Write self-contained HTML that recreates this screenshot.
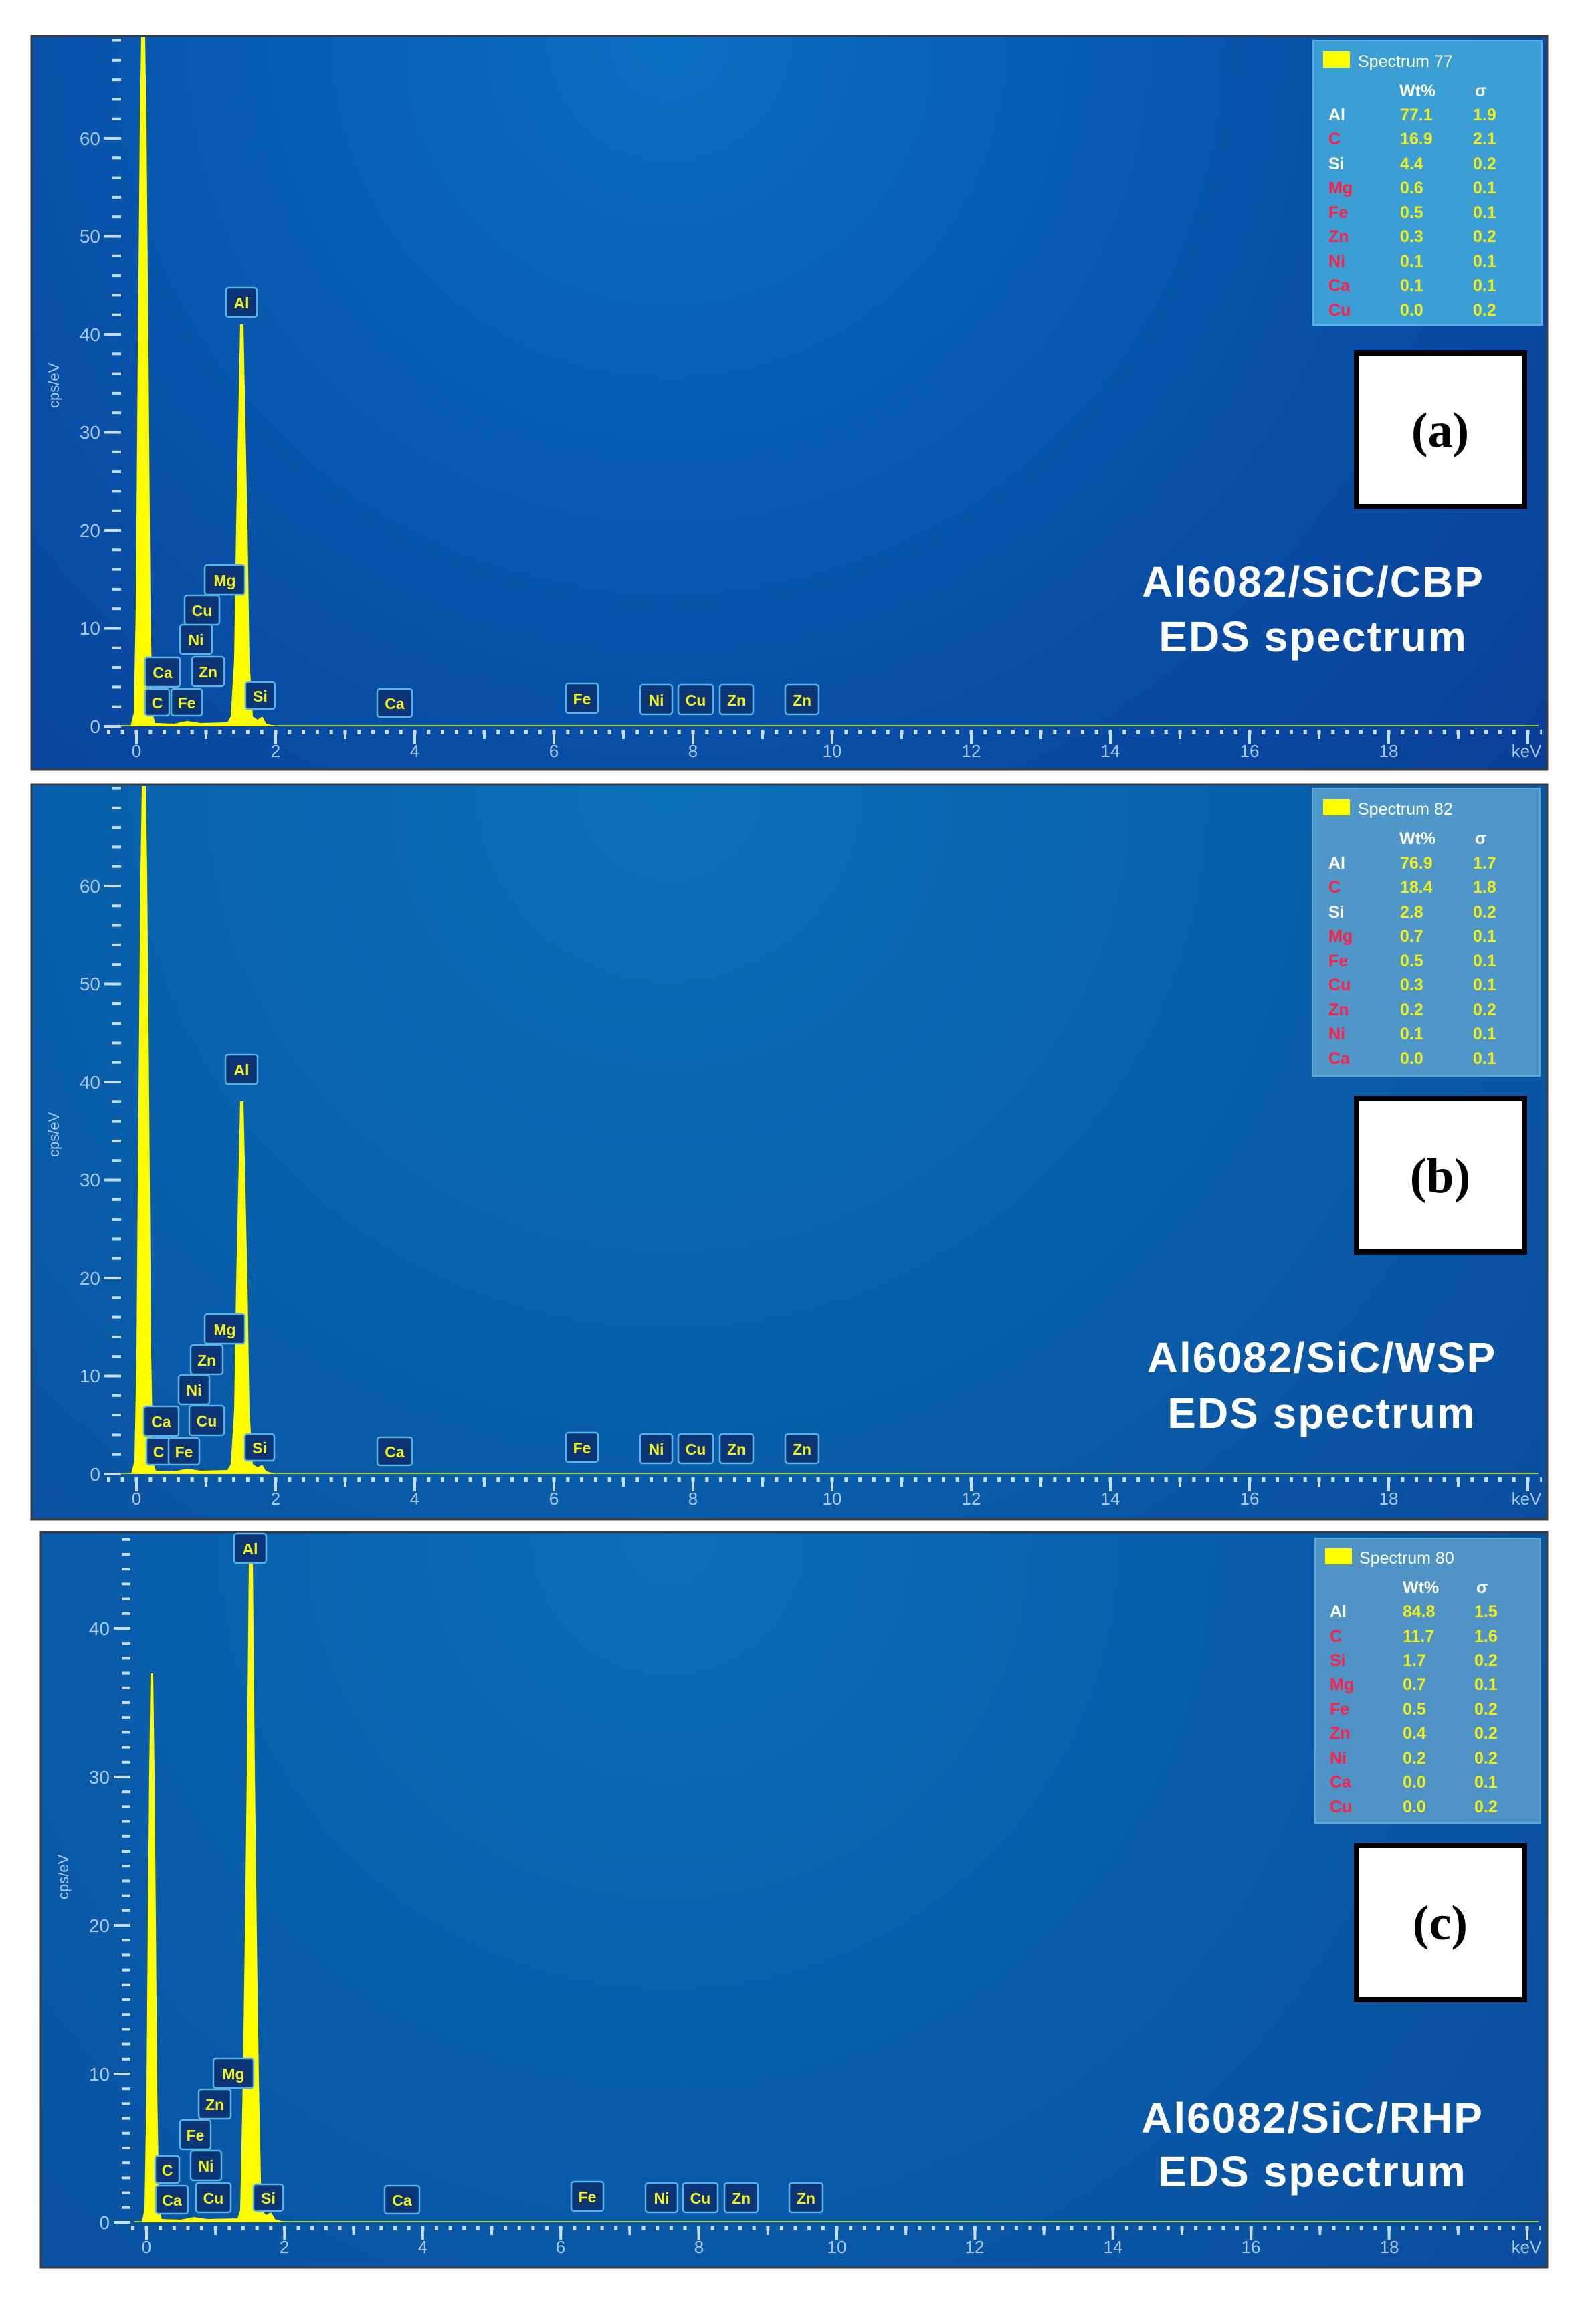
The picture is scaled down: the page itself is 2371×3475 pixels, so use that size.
<!DOCTYPE html>
<html><head><meta charset="utf-8"><style>
html,body{margin:0;padding:0;background:#fff;}
svg{display:block;}
.yl{font-family:"Liberation Sans",sans-serif;font-size:28px;fill:#a9c8ec;text-anchor:end;}
.xl{font-family:"Liberation Sans",sans-serif;font-size:26px;fill:#a9c8ec;text-anchor:middle;}
.cps{font-family:"Liberation Sans",sans-serif;font-size:22px;fill:#a9c8ec;}
.pk rect{fill:#0b3576;stroke:#56b4e6;stroke-width:2.5;}
.pk text{font-family:"Liberation Sans",sans-serif;font-weight:bold;font-size:23px;fill:#f4f21a;text-anchor:middle;}
.lg{font-family:"Liberation Sans",sans-serif;font-weight:bold;font-size:25px;}
.ttl{font-family:"Liberation Sans",sans-serif;font-weight:bold;font-size:64px;letter-spacing:2px;fill:#fff;text-anchor:middle;}
.lbl{font-family:"Liberation Serif",serif;font-weight:bold;font-size:74px;fill:#000;text-anchor:middle;}
.w{fill:#fff}.r{fill:#ff1f45}.yv{fill:#f0ef1c}
</style></head><body>
<svg width="2371" height="3475" viewBox="0 0 2371 3475" xmlns="http://www.w3.org/2000/svg">
<defs>
<radialGradient id="ga" gradientUnits="userSpaceOnUse" cx="1000" cy="60" r="1700">
<stop offset="0" stop-color="#0a6fc4"/><stop offset="0.55" stop-color="#0852aa"/><stop offset="1" stop-color="#0a3f98"/></radialGradient>
<radialGradient id="gb" gradientUnits="userSpaceOnUse" cx="1000" cy="1180" r="1700">
<stop offset="0" stop-color="#0b70ba"/><stop offset="0.55" stop-color="#095fab"/><stop offset="1" stop-color="#0a4d9e"/></radialGradient>
<radialGradient id="gc" gradientUnits="userSpaceOnUse" cx="1000" cy="2300" r="1700">
<stop offset="0" stop-color="#0b6fba"/><stop offset="0.55" stop-color="#095ba9"/><stop offset="1" stop-color="#0a4c9e"/></radialGradient>
<pattern id="xd1" patternUnits="userSpaceOnUse" x="201.5" y="0" width="20.8" height="4000"><rect x="0" y="0" width="5" height="4000" fill="#c9def5"/></pattern>
<pattern id="xm1" patternUnits="userSpaceOnUse" x="202" y="0" width="104" height="4000"><rect x="0" y="0" width="4" height="4000" fill="#c9def5"/></pattern>
<pattern id="xl1" patternUnits="userSpaceOnUse" x="202" y="0" width="208" height="4000"><rect x="0" y="0" width="4" height="4000" fill="#c9def5"/></pattern>
<pattern id="xd3" patternUnits="userSpaceOnUse" x="216.5" y="0" width="20.64" height="4000"><rect x="0" y="0" width="5" height="4000" fill="#c9def5"/></pattern>
<pattern id="xm3" patternUnits="userSpaceOnUse" x="217" y="0" width="103.2" height="4000"><rect x="0" y="0" width="4" height="4000" fill="#c9def5"/></pattern>
<pattern id="xl3" patternUnits="userSpaceOnUse" x="217" y="0" width="206.4" height="4000"><rect x="0" y="0" width="4" height="4000" fill="#c9def5"/></pattern>
<pattern id="ya" patternUnits="userSpaceOnUse" x="0" y="1084" width="4000" height="29.3"><rect x="0" y="0" width="4000" height="4" fill="#c9def5"/></pattern>
<pattern id="yb" patternUnits="userSpaceOnUse" x="0" y="2202" width="4000" height="29.3"><rect x="0" y="0" width="4000" height="4" fill="#c9def5"/></pattern>
<pattern id="yc" patternUnits="userSpaceOnUse" x="0" y="3321" width="4000" height="22.2"><rect x="0" y="0" width="4000" height="4" fill="#c9def5"/></pattern>
</defs>

<rect x="47" y="54" width="2266" height="1097" fill="url(#ga)" stroke="#3a3a3a" stroke-width="3"/>
<rect x="168" y="58" width="13" height="1032" fill="url(#ya)"/>
<g stroke="#c9def5" stroke-width="4">
<line x1="156" y1="1086" x2="181" y2="1086"/><line x1="156" y1="939.5" x2="181" y2="939.5"/><line x1="156" y1="793" x2="181" y2="793"/><line x1="156" y1="646.5" x2="181" y2="646.5"/><line x1="156" y1="500" x2="181" y2="500"/><line x1="156" y1="353.5" x2="181" y2="353.5"/><line x1="156" y1="207" x2="181" y2="207"/></g>
<g class="yl"><text x="150" y="1096">0</text><text x="150" y="949">10</text><text x="150" y="803">20</text><text x="150" y="656">30</text><text x="150" y="510">40</text><text x="150" y="363">50</text><text x="150" y="217">60</text></g>
<text class="cps" transform="translate(88,610) rotate(-90)">cps/eV</text>
<rect x="160" y="1091" width="2145" height="7" fill="url(#xd1)"/>
<rect x="160" y="1091" width="2145" height="14" fill="url(#xm1)"/>
<rect x="160" y="1091" width="2145" height="21" fill="url(#xl1)"/>
<g class="xl"><text x="204" y="1132">0</text><text x="412" y="1132">2</text><text x="620" y="1132">4</text><text x="828" y="1132">6</text><text x="1036" y="1132">8</text><text x="1244" y="1132">10</text><text x="1452" y="1132">12</text><text x="1660" y="1132">14</text><text x="1868" y="1132">16</text><text x="2076" y="1132">18</text><text x="2282" y="1132">keV</text></g>
<line x1="180" y1="1085" x2="2300" y2="1085" stroke="#9ccf3a" stroke-width="2"/>
<polygon fill="#ffff00" points="195,1086 200,1066 203,906 206,526 209,186 211,56 217,56 219,186 222,526 225,906 228,1066 232,1081 260,1082 280,1078 300,1081 340,1080 345,1071 350,986 353,786 356,636 359,485 364,485 367,636 370,786 373,986 378,1071 385,1076 392,1071 398,1082 410,1085 410,1086"/>
<g class="pk">
<rect x="338" y="430" width="46" height="44" rx="4"/><text x="361" y="461">Al</text>
<rect x="306" y="845" width="60" height="44" rx="4"/><text x="336" y="876">Mg</text>
<rect x="276" y="890" width="52" height="44" rx="4"/><text x="302" y="921">Cu</text>
<rect x="269" y="934" width="48" height="44" rx="4"/><text x="293" y="965">Ni</text>
<rect x="287" y="982" width="48" height="44" rx="4"/><text x="311" y="1013">Zn</text>
<rect x="217" y="983" width="52" height="44" rx="4"/><text x="243" y="1014">Ca</text>
<rect x="217" y="1030" width="36" height="40" rx="4"/><text x="235" y="1059">C</text>
<rect x="256" y="1030" width="46" height="40" rx="4"/><text x="279" y="1059">Fe</text>
<rect x="367" y="1020" width="44" height="40" rx="4"/><text x="389" y="1049">Si</text>
<rect x="564" y="1030" width="52" height="42" rx="4"/><text x="590" y="1060">Ca</text>
<rect x="846" y="1022" width="48" height="44" rx="4"/><text x="870" y="1053">Fe</text>
<rect x="957" y="1024" width="48" height="44" rx="4"/><text x="981" y="1055">Ni</text>
<rect x="1014" y="1024" width="52" height="44" rx="4"/><text x="1040" y="1055">Cu</text>
<rect x="1076" y="1024" width="50" height="44" rx="4"/><text x="1101" y="1055">Zn</text>
<rect x="1174" y="1024" width="50" height="44" rx="4"/><text x="1199" y="1055">Zn</text>
</g>
<rect x="1963" y="61" width="342" height="425" fill="#3b9fd6" stroke="#5ab0e0" stroke-width="2"/>
<rect x="1978" y="77" width="40" height="24" fill="#ffff00"/>
<g class="lg">
<text x="2030" y="100" class="w" style="font-weight:normal">Spectrum 77</text>
<text x="2092" y="144" class="w">Wt%</text><text x="2205" y="144" class="w">σ</text>
<text x="1986" y="180" class="w">Al</text><text x="2093" y="180" class="yv">77.1</text><text x="2202" y="180" class="yv">1.9</text>
<text x="1986" y="216" class="r">C</text><text x="2093" y="216" class="yv">16.9</text><text x="2202" y="216" class="yv">2.1</text>
<text x="1986" y="253" class="w">Si</text><text x="2093" y="253" class="yv">4.4</text><text x="2202" y="253" class="yv">0.2</text>
<text x="1986" y="289" class="r">Mg</text><text x="2093" y="289" class="yv">0.6</text><text x="2202" y="289" class="yv">0.1</text>
<text x="1986" y="326" class="r">Fe</text><text x="2093" y="326" class="yv">0.5</text><text x="2202" y="326" class="yv">0.1</text>
<text x="1986" y="362" class="r">Zn</text><text x="2093" y="362" class="yv">0.3</text><text x="2202" y="362" class="yv">0.2</text>
<text x="1986" y="399" class="r">Ni</text><text x="2093" y="399" class="yv">0.1</text><text x="2202" y="399" class="yv">0.1</text>
<text x="1986" y="435" class="r">Ca</text><text x="2093" y="435" class="yv">0.1</text><text x="2202" y="435" class="yv">0.1</text>
<text x="1986" y="472" class="r">Cu</text><text x="2093" y="472" class="yv">0.0</text><text x="2202" y="472" class="yv">0.2</text>
</g>
<rect x="2028" y="528" width="251" height="229" fill="#fff" stroke="#000" stroke-width="8"/>
<text class="lbl" x="2153" y="668">(a)</text>
<text class="ttl" x="1963" y="892">Al6082/SiC/CBP</text>
<text class="ttl" x="1963" y="974">EDS spectrum</text>

<rect x="47" y="1173" width="2266" height="1099" fill="url(#gb)" stroke="#3a3a3a" stroke-width="3"/>
<rect x="168" y="1177" width="13" height="1031" fill="url(#yb)"/>
<g stroke="#c9def5" stroke-width="4">
<line x1="156" y1="2204" x2="181" y2="2204"/><line x1="156" y1="2057.5" x2="181" y2="2057.5"/><line x1="156" y1="1911" x2="181" y2="1911"/><line x1="156" y1="1764.5" x2="181" y2="1764.5"/><line x1="156" y1="1618" x2="181" y2="1618"/><line x1="156" y1="1471.5" x2="181" y2="1471.5"/><line x1="156" y1="1325" x2="181" y2="1325"/></g>
<g class="yl"><text x="150" y="2214">0</text><text x="150" y="2067">10</text><text x="150" y="1921">20</text><text x="150" y="1774">30</text><text x="150" y="1628">40</text><text x="150" y="1481">50</text><text x="150" y="1335">60</text></g>
<text class="cps" transform="translate(88,1730) rotate(-90)">cps/eV</text>
<rect x="160" y="2209" width="2145" height="7" fill="url(#xd1)"/>
<rect x="160" y="2209" width="2145" height="14" fill="url(#xm1)"/>
<rect x="160" y="2209" width="2145" height="21" fill="url(#xl1)"/>
<g class="xl"><text x="204" y="2250">0</text><text x="412" y="2250">2</text><text x="620" y="2250">4</text><text x="828" y="2250">6</text><text x="1036" y="2250">8</text><text x="1244" y="2250">10</text><text x="1452" y="2250">12</text><text x="1660" y="2250">14</text><text x="1868" y="2250">16</text><text x="2076" y="2250">18</text><text x="2282" y="2250">keV</text></g>
<line x1="180" y1="2203" x2="2300" y2="2203" stroke="#9ccf3a" stroke-width="2"/>
<polygon fill="#ffff00" points="196,2204 201,2184 204,2024 207,1644 210,1304 212,1176 218,1176 220,1304 223,1644 226,2024 229,2184 233,2199 260,2200 280,2196 300,2199 340,2198 345,2189 350,2110 353,1920 356,1780 359,1647 364,1647 367,1780 370,1920 373,2110 378,2189 385,2194 392,2190 398,2200 410,2203 410,2204"/>
<g class="pk">
<rect x="337" y="1577" width="48" height="44" rx="4"/><text x="361" y="1608">Al</text>
<rect x="306" y="1965" width="60" height="44" rx="4"/><text x="336" y="1996">Mg</text>
<rect x="285" y="2011" width="48" height="44" rx="4"/><text x="309" y="2042">Zn</text>
<rect x="267" y="2056" width="46" height="44" rx="4"/><text x="290" y="2087">Ni</text>
<rect x="283" y="2102" width="52" height="44" rx="4"/><text x="309" y="2133">Cu</text>
<rect x="215" y="2103" width="52" height="44" rx="4"/><text x="241" y="2134">Ca</text>
<rect x="219" y="2150" width="36" height="40" rx="4"/><text x="237" y="2179">C</text>
<rect x="252" y="2150" width="46" height="40" rx="4"/><text x="275" y="2179">Fe</text>
<rect x="366" y="2144" width="44" height="40" rx="4"/><text x="388" y="2173">Si</text>
<rect x="564" y="2149" width="52" height="42" rx="4"/><text x="590" y="2179">Ca</text>
<rect x="846" y="2142" width="48" height="44" rx="4"/><text x="870" y="2173">Fe</text>
<rect x="957" y="2144" width="48" height="44" rx="4"/><text x="981" y="2175">Ni</text>
<rect x="1014" y="2144" width="52" height="44" rx="4"/><text x="1040" y="2175">Cu</text>
<rect x="1076" y="2144" width="50" height="44" rx="4"/><text x="1101" y="2175">Zn</text>
<rect x="1174" y="2144" width="50" height="44" rx="4"/><text x="1199" y="2175">Zn</text>
</g>
<rect x="1962" y="1179" width="340" height="430" fill="#4f97c9" stroke="#62a6d4" stroke-width="2"/>
<rect x="1978" y="1195" width="40" height="24" fill="#ffff00"/>
<g class="lg">
<text x="2030" y="1218" class="w" style="font-weight:normal">Spectrum 82</text>
<text x="2092" y="1262" class="w">Wt%</text><text x="2205" y="1262" class="w">σ</text>
<text x="1986" y="1299" class="w">Al</text><text x="2093" y="1299" class="yv">76.9</text><text x="2202" y="1299" class="yv">1.7</text>
<text x="1986" y="1335" class="r">C</text><text x="2093" y="1335" class="yv">18.4</text><text x="2202" y="1335" class="yv">1.8</text>
<text x="1986" y="1372" class="w">Si</text><text x="2093" y="1372" class="yv">2.8</text><text x="2202" y="1372" class="yv">0.2</text>
<text x="1986" y="1408" class="r">Mg</text><text x="2093" y="1408" class="yv">0.7</text><text x="2202" y="1408" class="yv">0.1</text>
<text x="1986" y="1445" class="r">Fe</text><text x="2093" y="1445" class="yv">0.5</text><text x="2202" y="1445" class="yv">0.1</text>
<text x="1986" y="1481" class="r">Cu</text><text x="2093" y="1481" class="yv">0.3</text><text x="2202" y="1481" class="yv">0.1</text>
<text x="1986" y="1518" class="r">Zn</text><text x="2093" y="1518" class="yv">0.2</text><text x="2202" y="1518" class="yv">0.2</text>
<text x="1986" y="1554" class="r">Ni</text><text x="2093" y="1554" class="yv">0.1</text><text x="2202" y="1554" class="yv">0.1</text>
<text x="1986" y="1591" class="r">Ca</text><text x="2093" y="1591" class="yv">0.0</text><text x="2202" y="1591" class="yv">0.1</text>
</g>
<rect x="2028" y="1643" width="251" height="229" fill="#fff" stroke="#000" stroke-width="8"/>
<text class="lbl" x="2153" y="1783">(b)</text>
<text class="ttl" x="1976" y="2052">Al6082/SiC/WSP</text>
<text class="ttl" x="1976" y="2135">EDS spectrum</text>

<rect x="61" y="2291" width="2252" height="1100" fill="url(#gc)" stroke="#3a3a3a" stroke-width="3"/>
<rect x="182" y="2296" width="13" height="1031" fill="url(#yc)"/>
<g stroke="#c9def5" stroke-width="4">
<line x1="170" y1="3323" x2="195" y2="3323"/><line x1="170" y1="3101" x2="195" y2="3101"/><line x1="170" y1="2879" x2="195" y2="2879"/><line x1="170" y1="2657" x2="195" y2="2657"/><line x1="170" y1="2435" x2="195" y2="2435"/></g>
<g class="yl"><text x="164" y="3333">0</text><text x="164" y="3111">10</text><text x="164" y="2889">20</text><text x="164" y="2667">30</text><text x="164" y="2445">40</text></g>
<text class="cps" transform="translate(102,2840) rotate(-90)">cps/eV</text>
<rect x="196" y="3328" width="2108" height="7" fill="url(#xd3)"/>
<rect x="196" y="3328" width="2108" height="14" fill="url(#xm3)"/>
<rect x="196" y="3328" width="2108" height="21" fill="url(#xl3)"/>
<g class="xl"><text x="219" y="3369">0</text><text x="425" y="3369">2</text><text x="632" y="3369">4</text><text x="838" y="3369">6</text><text x="1045" y="3369">8</text><text x="1251" y="3369">10</text><text x="1457" y="3369">12</text><text x="1664" y="3369">14</text><text x="1870" y="3369">16</text><text x="2077" y="3369">18</text><text x="2282" y="3369">keV</text></g>
<line x1="200" y1="3322" x2="2300" y2="3322" stroke="#9ccf3a" stroke-width="2"/>
<polygon fill="#ffff00" points="212,3323 216,3303 219,3123 221,2873 223,2652 225,2502 229,2502 231,2652 233,2873 235,3123 238,3303 242,3318 270,3319 290,3315 310,3318 355,3317 359,3305 363,3110 366,2900 369,2650 372,2335 378,2335 381,2650 384,2900 387,3110 391,3305 398,3312 405,3308 412,3319 425,3322 425,3323"/>
<g class="pk">
<rect x="350" y="2293" width="48" height="44" rx="4"/><text x="374" y="2324">Al</text>
<rect x="319" y="3078" width="60" height="44" rx="4"/><text x="349" y="3109">Mg</text>
<rect x="297" y="3124" width="48" height="44" rx="4"/><text x="321" y="3155">Zn</text>
<rect x="269" y="3170" width="46" height="44" rx="4"/><text x="292" y="3201">Fe</text>
<rect x="232" y="3224" width="36" height="40" rx="4"/><text x="250" y="3253">C</text>
<rect x="285" y="3216" width="46" height="44" rx="4"/><text x="308" y="3247">Ni</text>
<rect x="233" y="3268" width="48" height="42" rx="4"/><text x="257" y="3298">Ca</text>
<rect x="293" y="3264" width="52" height="44" rx="4"/><text x="319" y="3295">Cu</text>
<rect x="379" y="3266" width="44" height="40" rx="4"/><text x="401" y="3295">Si</text>
<rect x="575" y="3268" width="52" height="42" rx="4"/><text x="601" y="3298">Ca</text>
<rect x="854" y="3262" width="48" height="44" rx="4"/><text x="878" y="3293">Fe</text>
<rect x="965" y="3264" width="48" height="44" rx="4"/><text x="989" y="3295">Ni</text>
<rect x="1021" y="3264" width="52" height="44" rx="4"/><text x="1047" y="3295">Cu</text>
<rect x="1083" y="3264" width="50" height="44" rx="4"/><text x="1108" y="3295">Zn</text>
<rect x="1180" y="3264" width="50" height="44" rx="4"/><text x="1205" y="3295">Zn</text>
</g>
<rect x="1966" y="2300" width="337" height="426" fill="#4f93c6" stroke="#62a6d4" stroke-width="2"/>
<rect x="1981" y="2315" width="40" height="24" fill="#ffff00"/>
<g class="lg">
<text x="2032" y="2338" class="w" style="font-weight:normal">Spectrum 80</text>
<text x="2097" y="2382" class="w">Wt%</text><text x="2207" y="2382" class="w">σ</text>
<text x="1988" y="2418" class="w">Al</text><text x="2097" y="2418" class="yv">84.8</text><text x="2204" y="2418" class="yv">1.5</text>
<text x="1988" y="2455" class="r">C</text><text x="2097" y="2455" class="yv">11.7</text><text x="2204" y="2455" class="yv">1.6</text>
<text x="1988" y="2491" class="r">Si</text><text x="2097" y="2491" class="yv">1.7</text><text x="2204" y="2491" class="yv">0.2</text>
<text x="1988" y="2527" class="r">Mg</text><text x="2097" y="2527" class="yv">0.7</text><text x="2204" y="2527" class="yv">0.1</text>
<text x="1988" y="2564" class="r">Fe</text><text x="2097" y="2564" class="yv">0.5</text><text x="2204" y="2564" class="yv">0.2</text>
<text x="1988" y="2600" class="r">Zn</text><text x="2097" y="2600" class="yv">0.4</text><text x="2204" y="2600" class="yv">0.2</text>
<text x="1988" y="2637" class="r">Ni</text><text x="2097" y="2637" class="yv">0.2</text><text x="2204" y="2637" class="yv">0.2</text>
<text x="1988" y="2673" class="r">Ca</text><text x="2097" y="2673" class="yv">0.0</text><text x="2204" y="2673" class="yv">0.1</text>
<text x="1988" y="2710" class="r">Cu</text><text x="2097" y="2710" class="yv">0.0</text><text x="2204" y="2710" class="yv">0.2</text>
</g>
<rect x="2028" y="2760" width="251" height="230" fill="#fff" stroke="#000" stroke-width="8"/>
<text class="lbl" x="2153" y="2900">(c)</text>
<text class="ttl" x="1962" y="3189">Al6082/SiC/RHP</text>
<text class="ttl" x="1962" y="3269">EDS spectrum</text>
</svg>
</body></html>
